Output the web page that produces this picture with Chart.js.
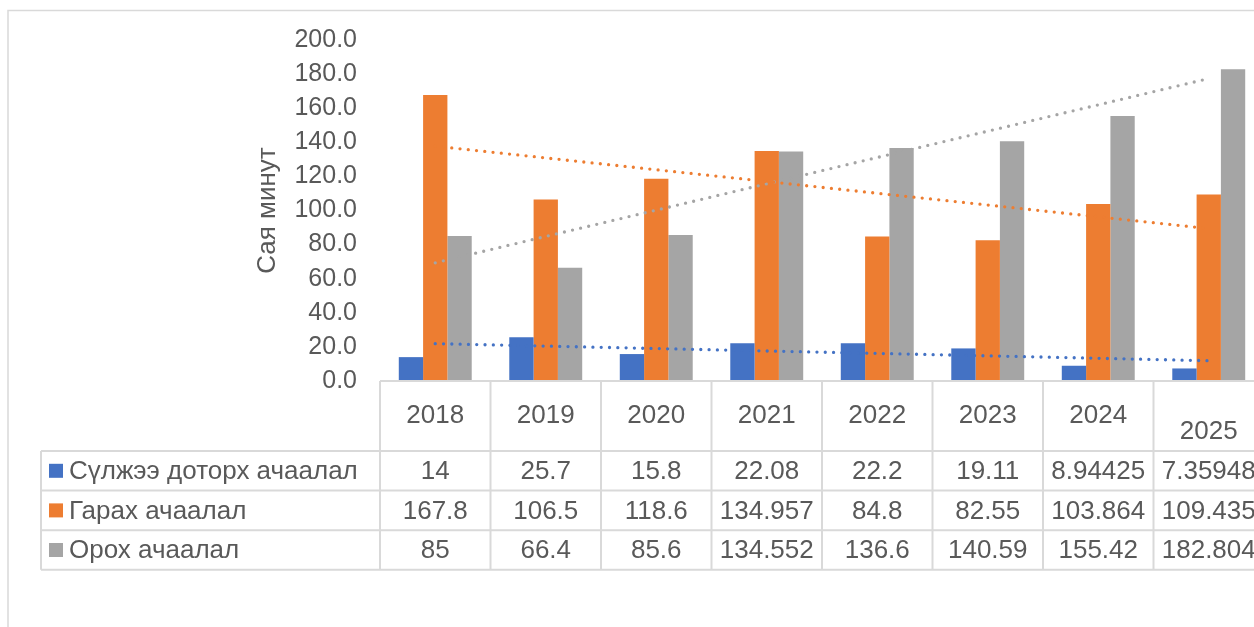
<!DOCTYPE html>
<html>
<head>
<meta charset="utf-8">
<title>Ачаалал</title>
<script src="https://cdn.jsdelivr.net/npm/chart.js@4.4.1/dist/chart.umd.min.js"></script>
<style>
  html, body { margin: 0; padding: 0; background: #fff; overflow: hidden; }
  #wrap { width: 1290px; height: 627px; }
</style>
</head>
<body>
<div id="wrap"><canvas id="chart" width="1290" height="627"></canvas></div>
<script>
const years = ["2018", "2019", "2020", "2021", "2022", "2023", "2024", "2025"];
const innerLoad = [14, 25.7, 15.8, 22.08, 22.2, 19.11, 8.94425, 7.35948];
const outLoad = [167.8, 106.5, 118.6, 134.957, 84.8, 82.55, 103.864, 109.435];
const inLoad = [85, 66.4, 85.6, 134.552, 136.6, 140.59, 155.42, 182.804];
const seriesNames = ["Сүлжээ доторх ачаалал", "Гарах ачаалал", "Орох ачаалал"];
const colors = ["#4472C4", "#ED7D31", "#A5A5A5"];

const FONT = '"Liberation Sans", Arial, sans-serif';
const TEXT = "#595959";
const LINE = "#D9D9D9";

// linear trend (least squares) over category index
function trend(vals) {
  const n = vals.length;
  const mx = (n - 1) / 2;
  const my = vals.reduce((a, b) => a + b, 0) / n;
  let sxy = 0, sxx = 0;
  vals.forEach((v, i) => { sxy += (i - mx) * (v - my); sxx += (i - mx) ** 2; });
  const k = sxy / sxx;
  return vals.map((_, i) => my + k * (i - mx));
}

const series = [innerLoad, outLoad, inLoad];

const datasets = [];
series.forEach((vals, i) => {
  datasets.push({
    type: "bar",
    label: seriesNames[i],
    data: vals,
    backgroundColor: colors[i],
    borderWidth: 0,
    categoryPercentage: 0.66,
    barPercentage: 1.0,
    order: 2
  });
});
series.forEach((vals, i) => {
  datasets.push({
    type: "line",
    label: seriesNames[i] + " trend",
    data: trend(vals),
    borderColor: colors[i],
    borderWidth: 3.3,
    borderDash: [0, 8.3],
    borderCapStyle: "round",
    pointRadius: 0,
    fill: false,
    tension: 0,
    order: 1
  });
});

// outer frame + data table under the plot
const tablePlugin = {
  id: "dataTable",
  beforeDraw(chart) {
    const ctx = chart.ctx;
    ctx.save();
    ctx.strokeStyle = LINE;
    ctx.lineWidth = 1.5;
    ctx.beginPath();
    ctx.moveTo(8, 627);
    ctx.lineTo(8, 10.5);
    ctx.lineTo(chart.width, 10.5);
    ctx.stroke();
    ctx.restore();
  },
  afterDraw(chart) {
    const ctx = chart.ctx;
    const x = chart.scales.x;
    const n = years.length;
    const colW = x.width / n;
    const left = chart.chartArea.left;
    const right = chart.chartArea.right;
    const top = chart.chartArea.bottom;
    const headH = 70;
    const rowH = 39.6;
    const labelLeft = 41;
    const rowTops = [top + headH, top + headH + rowH, top + headH + 2 * rowH];
    const bottom = top + headH + 3 * rowH;

    ctx.save();
    ctx.strokeStyle = LINE;
    ctx.lineWidth = 2;
    ctx.beginPath();
    ctx.moveTo(left, top); ctx.lineTo(right, top);
    rowTops.concat([bottom]).forEach(y => { ctx.moveTo(labelLeft, y); ctx.lineTo(right, y); });
    ctx.moveTo(labelLeft, rowTops[0]); ctx.lineTo(labelLeft, bottom);
    for (let i = 0; i <= n; i++) {
      const cx = left + i * colW;
      ctx.moveTo(cx, top); ctx.lineTo(cx, bottom);
    }
    ctx.stroke();

    ctx.fillStyle = TEXT;
    ctx.font = "26px " + FONT;
    ctx.textAlign = "center";
    ctx.textBaseline = "middle";
    years.forEach((yr, i) => {
      // the last header cell wraps, so its text sits lower
      const y = top + headH / 2 + (i === n - 1 ? 16 : 0);
      ctx.fillText(yr, x.getPixelForValue(i), y);
    });
    series.forEach((vals, r) => {
      const cy = rowTops[r] + rowH / 2 + 1;
      vals.forEach((v, i) => ctx.fillText(String(v), x.getPixelForValue(i), cy));
    });

    ctx.textAlign = "left";
    seriesNames.forEach((name, r) => {
      const cy = rowTops[r] + rowH / 2;
      ctx.fillStyle = colors[r];
      ctx.fillRect(49, cy - 7, 14, 14);
      ctx.fillStyle = TEXT;
      ctx.fillText(name, 69, cy + 1);
    });
    ctx.restore();
  }
};

new Chart(document.getElementById("chart"), {
  data: { labels: years, datasets },
  plugins: [tablePlugin],
  options: {
    responsive: false,
    animation: false,
    layout: { padding: { left: 248, top: 40, right: 26, bottom: 246 } },
    plugins: {
      legend: { display: false },
      tooltip: { enabled: false }
    },
    scales: {
      x: { display: false, offset: true },
      y: {
        min: 0,
        max: 200,
        afterFit(scale) { scale.width = 132; },
        grid: { display: false, drawTicks: false },
        border: { display: false },
        ticks: {
          stepSize: 20,
          padding: 23,
          color: TEXT,
          font: { family: FONT, size: 25 },
          callback: v => v.toFixed(1)
        },
        title: {
          display: true,
          text: "Сая минут",
          color: TEXT,
          font: { family: FONT, size: 26 },
          padding: { top: 4, bottom: 4 }
        }
      }
    }
  }
});
</script>
</body>
</html>
